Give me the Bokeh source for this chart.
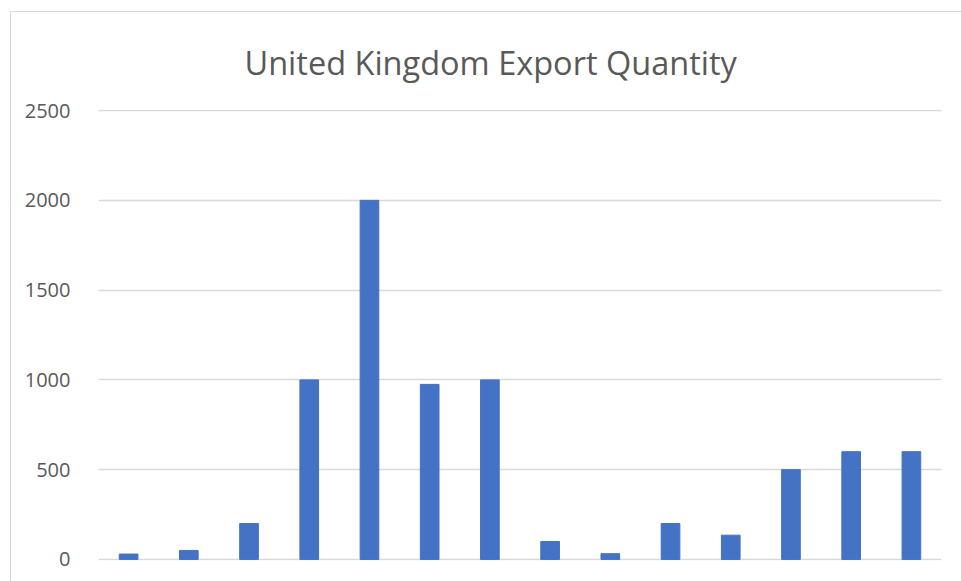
from bokeh.plotting import figure
from bokeh.models import Range1d, FactorRange
from bokeh.embed import file_html
from bokeh.resources import INLINE

categories = [str(i) for i in range(1, 15)]
quantities = [30, 50, 200, 1000, 2000, 975, 1000, 100, 32, 200, 135, 500, 600, 600]
y_ticks = [0, 500, 1000, 1500, 2000, 2500]

p = figure(width=951, height=570, output_backend="svg", toolbar_location=None,
           x_range=FactorRange(factors=categories, range_padding=0),
           y_range=Range1d(-6, 2506))
p.margin = (11, 0, 0, 10)
p.styles = {"border-left": "1px solid #d9d9d9", "border-top": "1px solid #d9d9d9"}
p.min_border_left = 87
p.min_border_right = 21
p.min_border_top = 97
p.min_border_bottom = 22

p.vbar(x=categories, top=quantities, width=0.31, color="#4472c4")

p.title.text = "United Kingdom Export Quantity"
p.title.align = "left"
p.title.offset = 146
p.title.standoff = 50
p.title.text_font = "Open Sans"
p.title.text_font_size = "32.5px"
p.title.text_font_style = "normal"
p.title.text_color = "#595959"

p.xaxis.visible = False
p.xgrid.visible = False
p.yaxis.ticker = y_ticks
p.yaxis.axis_line_color = None
p.yaxis.major_tick_line_color = None
p.yaxis.minor_tick_line_color = None
p.yaxis.major_label_text_font = "Open Sans"
p.yaxis.major_label_text_font_size = "20px"
p.yaxis.major_label_text_color = "#595959"
p.yaxis.major_label_standoff = 22
p.ygrid.grid_line_color = "#d9d9d9"
p.ygrid.grid_line_width = 1.5
p.outline_line_color = None
p.background_fill_color = "white"
p.border_fill_color = "white"

open("out.html", "w").write(file_html(p, INLINE))
